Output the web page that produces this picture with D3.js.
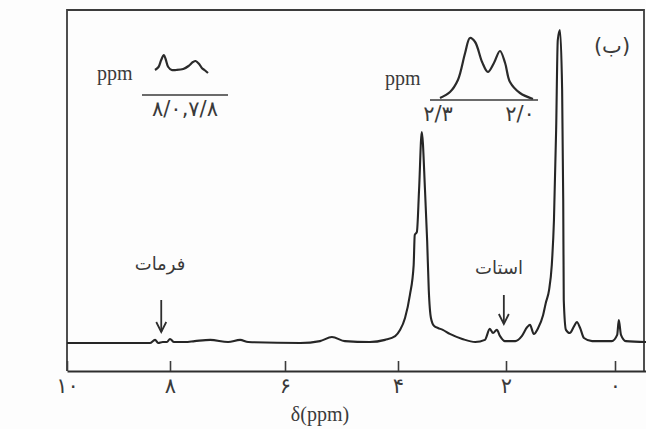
<!DOCTYPE html>
<html>
<head>
<meta charset="utf-8">
<script src="https://cdn.jsdelivr.net/npm/d3@7"></script>
<style>
  body { margin: 0; background: #fdfdfd; }
  svg { display: block; }
  .serif { font-family: "Liberation Serif", "DejaVu Serif", serif; fill: #3a3a3a; }
  .fa { font-family: "DejaVu Sans", sans-serif; fill: #3a3a3a; }
</style>
</head>
<body>
<div id="chart"></div>
<script>
// main spectrum, [ppm, intensity] (intensity: tallest peak ~ 100)
const spectrum = [
  [10, 0], [8.39, 0], [8.29, 1.0], [8.23, 0], [8.14, 0.3], [8.06, 0.3], [8.0, 1.3],
  [7.93, 0.3], [7.74, 0.3], [7.57, 0.6], [7.30, 1.0], [6.99, 0.3], [6.78, 1.0],
  [6.64, 0.3], [5.73, 0], [5.38, 0.6], [5.17, 1.9], [4.94, 0.6], [4.50, 0.3],
  [4.23, 1.0], [4.05, 2.2], [3.96, 4.2], [3.87, 8.0], [3.78, 15.3], [3.71, 24.9],
  [3.69, 34.5], [3.65, 35.5], [3.61, 48.9], [3.56, 67.4], [3.50, 48.9], [3.46, 32.6],
  [3.43, 16.9], [3.39, 8.0], [3.33, 5.4], [3.26, 4.8], [3.17, 4.2], [3.04, 2.9],
  [2.81, 1.3], [2.57, 0.3], [2.39, 1.0], [2.30, 4.5], [2.24, 3.2], [2.17, 4.2],
  [2.11, 2.2], [2.02, 0.6], [1.83, 0.6], [1.71, 2.2], [1.61, 5.1], [1.56, 5.8],
  [1.49, 2.9], [1.41, 4.8], [1.32, 8.9], [1.27, 12.8], [1.21, 16.9], [1.16, 24.9],
  [1.12, 39.3], [1.08, 68.1], [1.05, 96.8], [1.01, 100], [0.97, 80.8], [0.95, 45.7],
  [0.94, 13.7], [0.90, 4.2], [0.83, 3.2], [0.75, 5.4], [0.70, 6.7], [0.64, 4.8],
  [0.57, 1.6], [0.42, 0.6], [0.28, 0.6], [0.06, 0.6], [-0.04, 2.6], [-0.07, 7.3],
  [-0.11, 2.6], [-0.20, 0.6], [-0.57, 0.3]
];

// expanded insets, [ppm, intensity]
const insetLeft = [
  [8.05, 2], [8.03, 5], [8.015, 12], [8.0, 17], [7.99, 13], [7.975, 5], [7.955, 2],
  [7.93, 2], [7.89, 3], [7.86, 6], [7.835, 10], [7.82, 11], [7.80, 8], [7.785, 4],
  [7.77, 2], [7.75, -1]
];
const insetRight = [
  [2.35, 2], [2.307, 8], [2.273, 20], [2.242, 47], [2.221, 62], [2.199, 58],
  [2.169, 38], [2.144, 28], [2.118, 37], [2.092, 49], [2.070, 37], [2.049, 18],
  [2.006, 7], [1.95, 1]
];

const tickValues = [10, 8, 6, 4, 2, 0];
const faDigits = "۰۱۲۳۴۵۶۷۸۹";
const toFa = (n) => String(n).replace(/\d/g, (c) => faDigits[+c]);

const width = 646;
const height = 429;

const svg = d3.select("#chart").append("svg")
  .attr("width", width)
  .attr("height", height);

// hand-drawn axis is slightly uneven, so piecewise
const x = d3.scaleLinear()
  .domain([10, 8, 6, 4, 2, 0, -0.57])
  .range([67, 170, 285, 398, 506, 615, 646]);

const y = d3.scaleLinear().domain([0, 100]).range([343, 30]);

// frame
svg.append("path")
  .attr("d", "M67,371 V10 H644 V371")
  .attr("fill", "none")
  .attr("stroke", "#3c3c3c")
  .attr("stroke-width", 1.8);

const axis = svg.append("g")
  .attr("transform", "translate(0,371)")
  .call(d3.axisBottom(x)
    .tickValues(tickValues)
    .tickSizeInner(-10)
    .tickSizeOuter(0)
    .tickPadding(7)
    .tickFormat(toFa));

axis.select(".domain").attr("stroke", "#2e2e2e").attr("stroke-width", 2.2);
axis.selectAll(".tick line").attr("stroke", "#3c3c3c").attr("stroke-width", 1.6);
axis.selectAll(".tick text")
  .attr("class", "fa")
  .attr("font-size", 21);

svg.append("text")
  .attr("class", "serif")
  .attr("x", 320)
  .attr("y", 421)
  .attr("text-anchor", "middle")
  .attr("font-size", 20)
  .text("δ(ppm)");

const line = d3.line()
  .x((d) => x(d[0]))
  .y((d) => y(d[1]))
  .curve(d3.curveMonotoneX);

svg.append("path")
  .datum(spectrum)
  .attr("d", line)
  .attr("fill", "none")
  .attr("stroke", "#262626")
  .attr("stroke-width", 2.1);

// arrows + labels
function arrow(ppm, y0, y1, label, lx, ly) {
  const px = x(ppm);
  svg.append("line")
    .attr("x1", px).attr("x2", px)
    .attr("y1", y0).attr("y2", y1)
    .attr("stroke", "#2e2e2e").attr("stroke-width", 1.8);
  svg.append("path")
    .attr("d", `M${px - 5},${y1 - 10} L${px},${y1} L${px + 5},${y1 - 10}`)
    .attr("fill", "none").attr("stroke", "#2e2e2e").attr("stroke-width", 1.8);
  svg.append("text")
    .attr("class", "fa")
    .attr("x", lx)
    .attr("y", ly)
    .attr("text-anchor", "middle")
    .attr("font-size", 18)
    .text(label);
}
arrow(8.17, 300, 332, "فرمات", 160, 270);
arrow(2.04, 295, 324, "استات", 499, 274);

// inset helper
function inset(data, domain, x0, x1, base, ruleY, rule, ppmX, ppmY, label) {
  const ix = d3.scaleLinear().domain(domain).range([x0, x1]);
  const iy = d3.scaleLinear().domain([0, 10]).range([base, base - 10]);
  const il = d3.line().x((d) => ix(d[0])).y((d) => iy(d[1])).curve(d3.curveCatmullRom);
  svg.append("path")
    .datum(data)
    .attr("d", il)
    .attr("fill", "none")
    .attr("stroke", "#2b2b2b")
    .attr("stroke-width", 2.2);
  svg.append("line")
    .attr("x1", rule[0]).attr("x2", rule[1])
    .attr("y1", ruleY).attr("y2", ruleY)
    .attr("stroke", "#3a3a3a").attr("stroke-width", 1.6);
  svg.append("text")
    .attr("class", "serif")
    .attr("x", ppmX)
    .attr("y", ppmY)
    .attr("font-size", 20)
    .text("ppm");
  label.forEach((l) => {
    svg.append("text")
      .attr("class", "fa")
      .attr("x", l[1])
      .attr("y", ruleY + 21)
      .attr("text-anchor", "middle")
      .attr("direction", "ltr")
      .attr("letter-spacing", l[2])
      .attr("font-size", 21)
      .text(l[0]);
  });
}

inset(insetLeft, [8.05, 7.75], 155, 208, 72, 95, [142, 228], 97, 80,
  [["۸/۰,۷/۸", 185, 3]]);
inset(insetRight, [2.35, 1.95], 440, 533, 100, 100, [430, 538], 385, 85,
  [["۲/۳", 438, 3], ["۲/۰", 520, 1]]);

svg.append("text")
  .attr("class", "fa")
  .attr("x", 612)
  .attr("y", 53)
  .attr("text-anchor", "middle")
  .attr("font-size", 21)
  .text("(ب)");
</script>
</body>
</html>
